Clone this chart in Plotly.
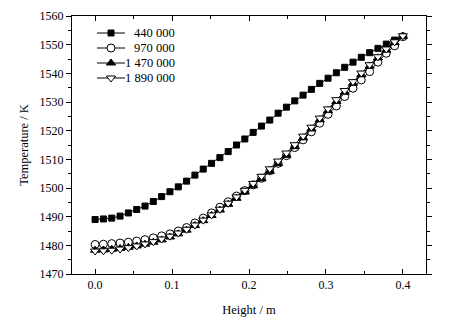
import numpy as np
import plotly.graph_objects as go

height = np.linspace(0, 0.4, 38).tolist()

t_440000 = [1489.0, 1489.2, 1489.5, 1490.2, 1491.3, 1492.5, 1493.7, 1495.3, 1497.0, 1498.7,
            1500.4, 1502.4, 1504.5, 1506.6, 1508.6, 1510.6, 1512.7, 1515.0, 1517.1, 1519.4,
            1521.6, 1523.7, 1526.1, 1528.2, 1530.4, 1532.4, 1534.4, 1536.5, 1538.3, 1540.2,
            1542.1, 1543.9, 1545.6, 1547.2, 1548.7, 1550.2, 1551.6, 1552.8]

t_970000 = [1480.3, 1480.4, 1480.6, 1480.8, 1481.1, 1481.5, 1482.0, 1482.6, 1483.3, 1484.0,
            1485.0, 1486.2, 1487.8, 1489.5, 1491.3, 1493.3, 1495.2, 1497.2, 1499.1, 1501.1,
            1503.4, 1506.0, 1508.6, 1511.3, 1514.1, 1516.8, 1519.6, 1522.6, 1525.7, 1528.6,
            1531.9, 1534.8, 1537.7, 1540.6, 1543.9, 1547.0, 1549.6, 1552.8]

t_1470000 = [1478.3, 1478.4, 1478.6, 1478.9, 1479.3, 1479.8, 1480.4, 1481.1, 1481.9, 1482.9,
             1484.0, 1485.3, 1486.9, 1488.6, 1490.4, 1492.3, 1494.3, 1496.4, 1498.6, 1500.8,
             1503.2, 1505.8, 1508.5, 1511.4, 1514.4, 1517.5, 1520.6, 1523.8, 1527.0, 1530.2,
             1533.4, 1536.5, 1539.5, 1542.5, 1545.4, 1548.1, 1550.7, 1552.9]

t_1890000 = [1478.0, 1478.1, 1478.3, 1478.7, 1479.2, 1479.8, 1480.5, 1481.3, 1482.2, 1483.2,
             1484.3, 1485.6, 1487.1, 1488.8, 1490.6, 1492.6, 1494.7, 1496.9, 1499.2, 1501.6,
             1504.1, 1506.7, 1509.4, 1512.2, 1515.1, 1518.1, 1521.2, 1524.4, 1527.6, 1530.8,
             1534.0, 1537.1, 1540.1, 1543.0, 1545.8, 1548.5, 1551.0, 1553.1]

series_names = ["440 000", "970 000", "1 470 000", "1 890 000"]
x_ticks = [0.0, 0.1, 0.2, 0.3, 0.4]
x_tick_labels = ["0.0", "0.1", "0.2", "0.3", "0.4"]

FONT = "Liberation Serif"

# figure geometry (px); page body adds 8px offset
W, H = 460, 320
ML, MR, MT, MB = 64, 42, 8, 54

styles = [
    ("square", "black", 6),
    ("circle", "white", 8),
    ("triangle-up", "black", 8),
    ("triangle-down", "white", 8),
]
all_series = [t_440000, t_970000, t_1470000, t_1890000]

fig = go.Figure()
for name, vals, (sym, fill, size) in zip(series_names, all_series, styles):
    fig.add_trace(go.Scatter(
        x=height, y=vals, name=name, mode="lines+markers", showlegend=False,
        line=dict(color="black", width=1),
        marker=dict(symbol=sym, size=size, color=fill,
                    line=dict(color="black", width=1)),
    ))

# manual legend on a pixel-coordinate overlay axis
left_px, right_px = ML, W - MR
top_px, bot_px = MT, H - MB
leg_rows = [25, 40, 55, 70]
line_x0, line_x1, mark_x, text_x = 89, 117, 103, 169
for name, (sym, fill, size), ry in zip(series_names, styles, leg_rows):
    fig.add_trace(go.Scatter(
        x=[line_x0, line_x1], y=[ry, ry], mode="lines", showlegend=False,
        line=dict(color="black", width=1), xaxis="x2", yaxis="y2", hoverinfo="skip",
    ))
    fig.add_trace(go.Scatter(
        x=[mark_x], y=[ry], mode="markers", showlegend=False,
        marker=dict(symbol=sym, size=size, color=fill, line=dict(color="black", width=1)),
        xaxis="x2", yaxis="y2", hoverinfo="skip",
    ))
    fig.add_annotation(x=text_x, y=ry, xref="x2", yref="y2", text=name,
                       showarrow=False, xanchor="right", yanchor="middle",
                       font=dict(family=FONT, size=12.5, color="black"))

fig.update_layout(
    width=W, height=H,
    margin=dict(l=ML, r=MR, t=MT, b=MB, autoexpand=False),
    paper_bgcolor="white", plot_bgcolor="white",
    font=dict(family=FONT, size=12, color="black"),
    showlegend=False,
    xaxis2=dict(overlaying="x", range=[left_px, right_px], visible=False, fixedrange=True),
    yaxis2=dict(overlaying="y", range=[bot_px, top_px], visible=False, fixedrange=True),
)
fig.layout.xaxis.update(
    range=[-0.03, 0.43], tickvals=x_ticks, ticktext=x_tick_labels,
    showline=True, linecolor="black", linewidth=1, mirror="ticks",
    ticks="inside", ticklen=5, tickcolor="black", showgrid=False, zeroline=False,
    automargin=False,
    minor=dict(dtick=0.05, tick0=0, ticks="inside", ticklen=3, tickcolor="black"),
    title=dict(text="Height / m", font=dict(family=FONT, size=12.5), standoff=13),
)
fig.layout.yaxis.update(
    range=[1470, 1560], dtick=10, tick0=1470,
    showline=True, linecolor="black", linewidth=1, mirror="ticks",
    ticks="outside", ticklen=5, tickcolor="black", showgrid=False, zeroline=False,
    automargin=False,
    minor=dict(dtick=5, tick0=1470, ticks="outside", ticklen=3, tickcolor="black"),
    title=dict(text="Temperature / K", font=dict(family=FONT, size=12.5), standoff=8),
)

fig.write_html("out.html")
